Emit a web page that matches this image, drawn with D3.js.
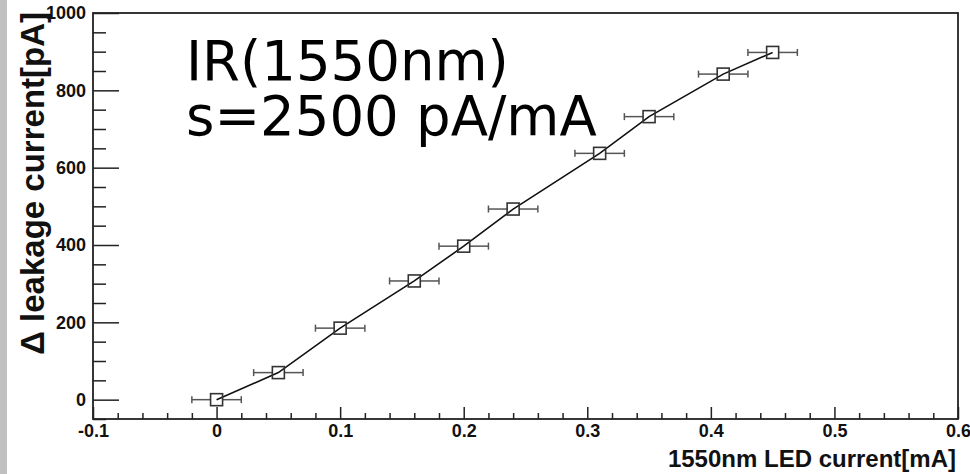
<!DOCTYPE html>
<html>
<head>
<meta charset="utf-8">
<script src="https://cdn.jsdelivr.net/npm/d3@7"></script>
<style>
  body { margin: 0; background: #fff; }
  svg { display: block; }
</style>
</head>
<body>
<div id="chart"></div>
<script>
// datos
var ledCurrent = [0, 0.05, 0.1, 0.16, 0.2, 0.24, 0.31, 0.35, 0.41, 0.45];
var leakage = [0, 70, 185, 307, 397, 493, 637, 732, 842, 898];
var currentErr = [0.02, 0.02, 0.02, 0.02, 0.02, 0.02, 0.02, 0.02, 0.02, 0.02];

var xTicks = [-0.1, 0, 0.1, 0.2, 0.3, 0.4, 0.5, 0.6];
var xTickLabels = ["-0.1", "0", "0.1", "0.2", "0.3", "0.4", "0.5", "0.6"];
var yTicks = [0, 200, 400, 600, 800, 1000];
var yTickLabels = ["0", "200", "400", "600", "800", "1000"];

var ancho = 970, alto = 474;
var izq = 93, der = 958, arriba = 13, abajo = 419;

var svg = d3.select("#chart").append("svg")
  .attr("width", ancho)
  .attr("height", alto);

// franja gris a la izquierda
svg.append("rect")
  .attr("x", 0).attr("y", 0)
  .attr("width", 7).attr("height", alto)
  .attr("fill", "#c0c0c0");

var x = d3.scaleLinear().domain([-0.1, 0.6]).range([izq, der]);
var y = d3.scaleLinear().domain([-50, 1000]).range([abajo, arriba]);

var fuenteEje = "'Liberation Sans', Arial, Helvetica, sans-serif";

// ticks menores
svg.append("g")
  .attr("transform", "translate(0," + abajo + ")")
  .call(d3.axisBottom(x).tickValues(d3.range(-0.08, 0.6, 0.02).filter(function(v){
      return Math.abs(Math.round(v * 10) - v * 10) > 0.01; }))
    .tickSize(-6).tickFormat(""))
  .call(function(g){ g.select(".domain").remove(); });

svg.append("g")
  .attr("transform", "translate(" + izq + ",0)")
  .call(d3.axisLeft(y).tickValues(d3.range(-50, 1000, 50).filter(function(v){ return v % 200 !== 0; }))
    .tickSize(-13).tickFormat(""))
  .call(function(g){ g.select(".domain").remove(); });

// ejes principales
var ejeX = svg.append("g")
  .attr("transform", "translate(0," + abajo + ")")
  .call(d3.axisBottom(x).tickValues(xTicks).tickSize(-12).tickPadding(5)
    .tickFormat(function(d, i){ return xTickLabels[i]; }));
ejeX.select(".domain").remove();

var ejeY = svg.append("g")
  .attr("transform", "translate(" + izq + ",0)")
  .call(d3.axisLeft(y).tickValues(yTicks).tickSize(-26).tickPadding(7)
    .tickFormat(function(d, i){ return yTickLabels[i]; }));
ejeY.select(".domain").remove();

svg.selectAll(".tick line").attr("stroke", "#222").attr("stroke-width", 1.5);
svg.selectAll(".tick text")
  .attr("font-family", fuenteEje)
  .attr("font-weight", "bold")
  .style("font-size", "18px")
  .attr("fill", "#111");

// marco
svg.append("rect")
  .attr("x", izq).attr("y", arriba)
  .attr("width", der - izq).attr("height", abajo - arriba)
  .attr("fill", "none")
  .attr("stroke", "#222")
  .attr("stroke-width", 1.8);

var datos = ledCurrent.map(function(d, i){
  return { x: d, y: leakage[i], ex: currentErr[i] };
});

var medio = 6; // mitad del marcador

// barras de error
var barras = svg.append("g").attr("stroke", "#555").attr("stroke-width", 1.5);
datos.forEach(function(d){
  var cx = x(d.x), cy = y(d.y), x0 = x(d.x - d.ex), x1 = x(d.x + d.ex);
  barras.append("line").attr("x1", x0).attr("x2", cx - medio).attr("y1", cy).attr("y2", cy);
  barras.append("line").attr("x1", cx + medio).attr("x2", x1).attr("y1", cy).attr("y2", cy);
  barras.append("line").attr("x1", x0).attr("x2", x0).attr("y1", cy - 3.5).attr("y2", cy + 3.5);
  barras.append("line").attr("x1", x1).attr("x2", x1).attr("y1", cy - 3.5).attr("y2", cy + 3.5);
});

// linea
svg.append("path")
  .datum(datos)
  .attr("fill", "none")
  .attr("stroke", "#111")
  .attr("stroke-width", 1.6)
  .attr("d", d3.line().x(function(d){ return x(d.x); }).y(function(d){ return y(d.y); }));

// marcadores
svg.append("g").selectAll("rect")
  .data(datos)
  .enter()
  .append("rect")
  .attr("x", function(d){ return x(d.x) - medio; })
  .attr("y", function(d){ return y(d.y) - medio; })
  .attr("width", medio * 2)
  .attr("height", medio * 2)
  .attr("fill", "none")
  .attr("stroke", "#333")
  .attr("stroke-width", 1.6);

// titulos de ejes
svg.append("text")
  .text("1550nm LED current[mA]")
  .attr("x", 956)
  .attr("y", 467)
  .attr("text-anchor", "end")
  .attr("font-family", fuenteEje)
  .attr("font-weight", "bold")
  .attr("font-size", "24px")
  .attr("fill", "#111");

svg.append("text")
  .text("\u0394 leakage current[pA]")
  .attr("transform", "translate(44,12) rotate(-90)")
  .attr("text-anchor", "end")
  .attr("font-family", fuenteEje)
  .attr("font-weight", "bold")
  .attr("font-size", "33px")
  .attr("fill", "#111");

// texto grande (un solo bloque de dos lineas)
var anotacion = ["IR(1550nm)", "s=2500 pA/mA"];
svg.append("text")
  .attr("font-family", "'DejaVu Sans', Verdana, sans-serif")
  .attr("font-size", "54.5px")
  .attr("fill", "#000")
  .selectAll("tspan")
  .data(anotacion)
  .enter()
  .append("tspan")
  .text(function(d){ return d; })
  .attr("x", 186)
  .attr("y", function(d, i){ return 80 + 55 * i; });
</script>
</body>
</html>
